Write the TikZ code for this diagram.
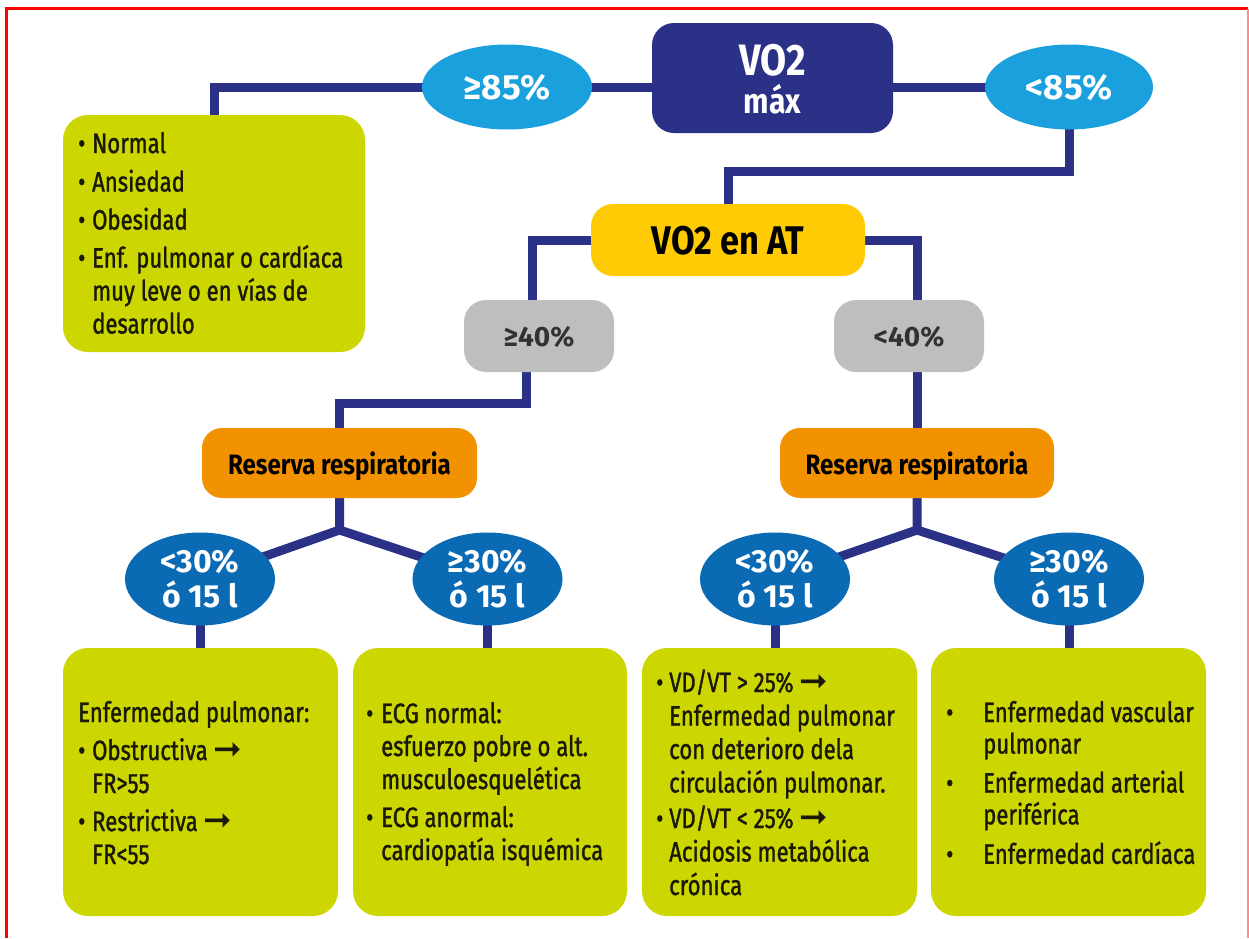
\documentclass[tikz,border=0pt]{standalone}
\usepackage{fontspec}
\setmainfont{Fira Sans}[FakeStretch=0.79,FakeBold=1.2]
\newfontfamily\hdfont{Fira Sans}[FakeStretch=0.86]
\newfontfamily\numfont{Fira Sans}
\newfontfamily\arrowfont{DejaVu Sans}
\usetikzlibrary{shapes.geometric,backgrounds,calc}

\definecolor{navy}{RGB}{43,49,135}
\definecolor{skyblue}{RGB}{27,160,222}
\definecolor{deepblue}{RGB}{10,107,180}
\definecolor{gold}{RGB}{255,203,5}
\definecolor{midgray}{RGB}{190,190,190}
\definecolor{amber}{RGB}{243,146,0}
\definecolor{lime}{RGB}{204,214,0}
\definecolor{inkdark}{RGB}{25,25,5}
\definecolor{graytext}{RGB}{50,50,50}
\definecolor{framered}{RGB}{255,0,0}
\definecolor{framepink}{RGB}{255,140,140}

% heavy right arrow used inside the lists
\newcommand\harr{{\arrowfont\bfseries\fontsize{34}{33}\selectfont ➞}}
% bullet in a box of given width
\newcommand\bul[1]{\makebox[#1][l]{•}}

\begin{document}
\begin{tikzpicture}[x=1pt,y=-1pt,
  link/.style={draw=navy,line width=9pt},
  heavy/.style={font={\hdfont\bfseries\fontsize{#1}{#1}\selectfont}},
  numeric/.style={font={\numfont\bfseries\fontsize{#1}{#1}\selectfont}},
  roundbox/.style={rectangle,rounded corners=22pt,inner sep=0pt,outer sep=0pt},
  limebox/.style={roundbox,rounded corners=25pt,fill=lime},
  graybox/.style={roundbox,fill=midgray,text=graytext,numeric=28,text depth=0pt,
    minimum width=150pt,minimum height=72pt},
  orangebox/.style={roundbox,rounded corners=20pt,fill=amber,text=black,heavy=28,
    text depth=0pt,minimum width=275pt,minimum height=70pt},
  skyell/.style={ellipse,fill=skyblue,text=white,numeric=35,text depth=0pt,
    inner sep=0pt,outer sep=0pt,minimum width=170pt,minimum height=85pt},
  deepell/.style={ellipse,fill=deepblue,text=white,align=center,inner sep=0pt,outer sep=0pt,
    font={\numfont\bfseries\fontsize{32}{35}\selectfont},
    minimum width=150pt,minimum height=93pt},
  listtxt/.style={anchor=base west,inner sep=0pt,text=inkdark},
]
\useasboundingbox (0,0) rectangle (1249,938);

% ---- top row
\node[roundbox,fill=navy,minimum width=241pt,minimum height=110pt] (vmax) at (772.5,78) {};
\node[heavy=44,text=white,anchor=base,inner sep=0pt] (vmaxA) at (772.5,75) {VO2};
\node[heavy=35,text=white,anchor=base,inner sep=0pt] (vmaxB) at (772.5,113) {máx};

\node[skyell] (e85a) at (507,87) {≥85\%};
\node[skyell,minimum width=168pt] (e85b) at (1069,87) {<85\%};

% ---- left result box
\node[limebox,minimum width=302pt,minimum height=237pt] (lbox) at (214,233.5) {};
\node[listtxt,font={\fontsize{28}{33}\selectfont}] (ltxt) at (78,153)
  {\begin{tabular}[t]{@{}l@{}l@{}}
   \bul{14pt}&Normal\\[5.5pt]
   \bul{14pt}&Ansiedad\\[5pt]
   \bul{14pt}&Obesidad\\[5pt]
   \bul{14pt}&Enf. pulmonar o cardíaca\\
   &muy leve o en vías de\\
   &desarrollo
   \end{tabular}};

% ---- second level
\node[roundbox,fill=gold,minimum width=274pt,minimum height=72pt,heavy=40,text depth=0pt] (vat) at (728,240) {VO2 en AT};

\node[graybox] (g40a) at (539,336) {≥40\%};
\node[graybox] (g40b) at (909,336) {<40\%};

\node[orangebox] (resL) at (339.5,463) {Reserva respiratoria};
\node[orangebox,minimum width=274pt] (resR) at (917,463) {Reserva respiratoria};

\coordinate (jL) at (339.5,530);
\coordinate (jR) at (917,530);

\node[deepell] (eL1) at (200,579) {<30\%\\ó 15 l};
\node[deepell] (eL2) at (487.5,579) {≥30\%\\ó 15 l};
\node[deepell] (eR1) at (775,579) {<30\%\\ó 15 l};
\node[deepell] (eR2) at (1069,579) {≥30\%\\ó 15 l};

% ---- bottom result boxes
\node[limebox,minimum width=275pt,minimum height=268pt] (b1) at (200.5,782) {};
\node[limebox,minimum width=274pt,minimum height=268pt] (b2) at (490,782) {};
\node[limebox,minimum width=275pt,minimum height=268pt] (b3) at (779.5,782) {};
\node[limebox,minimum width=275pt,minimum height=268pt] (b4) at (1068.5,782) {};

\node[listtxt,font={\fontsize{28}{33}\selectfont}] (t1) at (78,722)
  {\begin{tabular}[t]{@{}l@{}l@{}}
   \multicolumn{2}{@{}l@{}}{Enfermedad pulmonar:}\\[5pt]
   \bul{14pt}&Obstructiva \harr\\
   &FR>55\\[5pt]
   \bul{14pt}&Restrictiva \harr\\
   &FR<55
   \end{tabular}};

\node[listtxt,font={\fontsize{28}{33}\selectfont}] (t2) at (366,723)
  {\begin{tabular}[t]{@{}l@{}l@{}}
   \bul{15pt}&ECG normal:\\
   &esfuerzo pobre o alt.\\
   &musculoesquelética\\[5pt]
   \bul{15pt}&ECG anormal:\\
   &cardiopatía isquémica
   \end{tabular}};

\node[listtxt,font={\fontsize{28}{33.5}\selectfont}] (t3) at (656,692)
  {\begin{tabular}[t]{@{}l@{}l@{}}
   \bul{13pt}&VD/VT > 25\% \harr\\
   &Enfermedad pulmonar\\
   &con deterioro dela\\
   &circulación pulmonar.\\[2pt]
   \bul{13pt}&VD/VT < 25\% \harr\\
   &Acidosis metabólica\\
   &crónica
   \end{tabular}};

\node[listtxt,font={\fontsize{28}{31.5}\selectfont}] (t4) at (946,722)
  {\begin{tabular}[t]{@{}l@{}l@{}}
   \bul{37pt}&Enfermedad vascular\\
   &pulmonar\\[7.5pt]
   \bul{37pt}&Enfermedad arterial\\
   &periférica\\[7.5pt]
   \bul{37pt}&Enfermedad cardíaca
   \end{tabular}};

% ---- connectors behind the shapes
\begin{scope}[on background layer]
  \fill[white] (0,0) rectangle (1249,938);
  \draw[link] (e85a.center) -| (lbox.north);
  \draw[link] (e85a.center) -- (e85a.center -| vmax.west);
  \draw[link] (e85b.center -| vmax.east) -- (e85b.center);
  \draw[link] (e85b.center) |- ($(vat.north)+(0,-33)$) -- (vat.north);
  \draw[link] (vat.west) -| ([xshift=-7pt]g40a.north);
  \draw[link] (vat.east) -| ([xshift=8pt]g40b.north);
  \draw[link] ([xshift=-13pt]g40a.south) |- ($(resL.north)+(0,-25)$) -- (resL.north);
  \draw[link] ([xshift=8pt]g40b.south) -- (resR.north);
  \draw[link] (resL.south) -- (jL) -- (eL1.center);
  \draw[link] (jL) -- (eL2.center);
  \draw[link] (resR.south) -- (jR) -- (eR1.center);
  \draw[link] (jR) -- (eR2.center);
  \draw[link] (eL1.center) -- (eL1.center |- b1.north);
  \draw[link] (eL2.center) -- (eL2.center |- b2.north);
  \draw[link] (eR1.center) -- (eR1.center |- b3.north);
  \draw[link] (eR2.center) -- (eR2.center |- b4.north);
\end{scope}

% ---- outer frame
\draw[framered,line width=3pt] (6.5,938) -- (6.5,8.5) -- (1248,8.5);
\draw[framepink,line width=1.5pt] (1248,8.5) -- (1248,938);
\end{tikzpicture}
\end{document}
